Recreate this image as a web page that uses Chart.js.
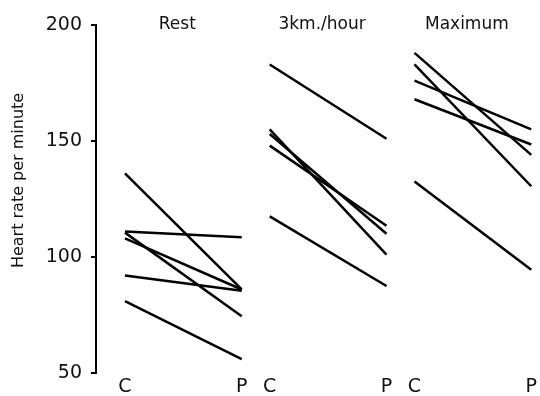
<!DOCTYPE html>
<html>
<head>
<meta charset="utf-8">
<script src="https://cdn.jsdelivr.net/npm/chart.js@4"></script>
<style>
  html, body { margin: 0; padding: 0; background: #fff; }
  #wrap { position: relative; width: 540px; height: 396px; }
</style>
</head>
<body>
<div id="wrap"><canvas id="hrChart"></canvas></div>
<script>
// ─── DATA (heart rate per minute, C → P) ─────────────────────────────────────
const PANEL_TITLES = ['Rest', '3km./hour', 'Maximum'];
const END_LABELS   = ['C', 'P'];
const Y_TICKS      = [50, 100, 150, 200];
const Y_TITLE      = 'Heart rate per minute';

const restC = [136, 111, 110.5, 108, 92, 81];
const restP = [86, 108.5, 74.5, 86, 85.5, 56];

const walkC = [183, 155, 153, 148, 117.5];
const walkP = [151, 101, 110, 113.5, 87.5];

const maxC  = [188, 183, 176, 168, 132.5];
const maxP  = [144, 130.5, 155, 148.5, 94.5];

const PANELS = [[restC, restP], [walkC, walkP], [maxC, maxP]];

// panel layout on the shared x scale: C at i*STEP, P at i*STEP + 1
const STEP = 1.24;
const FONT = "'DejaVu Sans', sans-serif";

const datasets = [];
PANELS.forEach(([cs, ps], i) => {
  cs.forEach((c, k) => {
    datasets.push({
      data: [{ x: i * STEP, y: c }, { x: i * STEP + 1, y: ps[k] }],
      borderColor: '#000', borderWidth: 2.5, pointRadius: 0,
      borderCapStyle: 'butt', tension: 0, clip: false,
    });
  });
});

// panel headings on the top edge of the plot + rotated y title (sits above centre)
const panelTitles = {
  id: 'panelTitles',
  afterDraw(chart) {
    const { ctx, chartArea, scales } = chart;
    ctx.save();
    ctx.fillStyle = '#111';
    ctx.font = `17px ${FONT}`;
    ctx.textAlign = 'center';
    ctx.textBaseline = 'middle';
    PANEL_TITLES.forEach((t, i) => {
      const x = scales.x.getPixelForValue(i * STEP + 0.5) - 6;
      ctx.fillText(t, x, chartArea.top);
    });
    ctx.font = `16px ${FONT}`;
    ctx.translate(19, scales.y.getPixelForValue(133));
    ctx.rotate(-Math.PI / 2);
    ctx.fillText(Y_TITLE, 0, 0);
    ctx.restore();
  },
};

new Chart(document.getElementById('hrChart'), {
  type: 'line',
  data: { datasets },
  plugins: [panelTitles],
  options: {
    responsive: true, maintainAspectRatio: false, animation: false,
    layout: { padding: { top: 25, right: 2, bottom: 0, left: 0 } },
    plugins: { legend: { display: false }, tooltip: { enabled: false } },
    scales: {
      x: {
        type: 'linear', min: -0.248, max: 3.53,
        afterBuildTicks: s => {
          s.ticks = [];
          PANELS.forEach((_, i) => { s.ticks.push({ value: i * STEP }, { value: i * STEP + 1 }); });
        },
        afterFit: s => { s.height = 23; },
        grid: { display: false, drawTicks: false },
        border: { display: false },
        ticks: {
          autoSkip: false, maxRotation: 0, padding: 3, color: '#111',
          font: { family: FONT, size: 19 },
          callback: (v, idx) => END_LABELS[idx % 2],
        },
      },
      y: {
        min: 50, max: 200,
        afterBuildTicks: s => { s.ticks = Y_TICKS.map(v => ({ value: v })); },
        afterFit: s => { s.width = 96; },
        grid: { drawOnChartArea: false, drawTicks: true, tickLength: 5, color: '#000', lineWidth: 2 },
        border: { display: true, color: '#000', width: 2 },
        ticks: { padding: 9, color: '#111', font: { family: FONT, size: 19 } },
      },
    },
  },
});
</script>
</body>
</html>
